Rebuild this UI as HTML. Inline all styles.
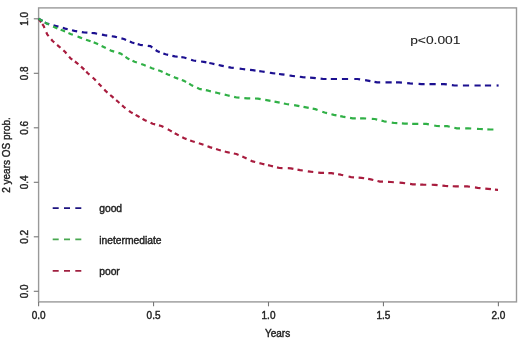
<!DOCTYPE html>
<html><head><meta charset="utf-8"><style>
html,body{margin:0;padding:0;background:#fff;width:520px;height:345px;overflow:hidden}
svg{display:block;will-change:transform}
text{font-family:"Liberation Sans",sans-serif;font-size:10px;fill:#222;stroke:#222;stroke-width:0.4px}
</style></head><body>
<svg width="520" height="345" viewBox="0 0 520 345">
<rect width="520" height="345" fill="#fff"/>
<rect x="38.6" y="7.9" width="477.9" height="294" fill="none" stroke="#999" stroke-width="1.4"/>
<line x1="33.8" y1="291.30" x2="38.6" y2="291.30" stroke="#777" stroke-width="1.1"/>
<text transform="translate(27.6,291.30) rotate(-90)" text-anchor="middle">0.0</text>
<line x1="33.8" y1="236.80" x2="38.6" y2="236.80" stroke="#777" stroke-width="1.1"/>
<text transform="translate(27.6,236.80) rotate(-90)" text-anchor="middle">0.2</text>
<line x1="33.8" y1="182.30" x2="38.6" y2="182.30" stroke="#777" stroke-width="1.1"/>
<text transform="translate(27.6,182.30) rotate(-90)" text-anchor="middle">0.4</text>
<line x1="33.8" y1="127.80" x2="38.6" y2="127.80" stroke="#777" stroke-width="1.1"/>
<text transform="translate(27.6,127.80) rotate(-90)" text-anchor="middle">0.6</text>
<line x1="33.8" y1="73.30" x2="38.6" y2="73.30" stroke="#777" stroke-width="1.1"/>
<text transform="translate(27.6,73.30) rotate(-90)" text-anchor="middle">0.8</text>
<line x1="33.8" y1="18.80" x2="38.6" y2="18.80" stroke="#777" stroke-width="1.1"/>
<text transform="translate(27.6,18.80) rotate(-90)" text-anchor="middle">1.0</text>
<line x1="38.60" y1="301.9" x2="38.60" y2="306.3" stroke="#777" stroke-width="1.1"/>
<text x="38.60" y="318.6" text-anchor="middle">0.0</text>
<line x1="153.55" y1="301.9" x2="153.55" y2="306.3" stroke="#777" stroke-width="1.1"/>
<text x="153.55" y="318.6" text-anchor="middle">0.5</text>
<line x1="268.50" y1="301.9" x2="268.50" y2="306.3" stroke="#777" stroke-width="1.1"/>
<text x="268.50" y="318.6" text-anchor="middle">1.0</text>
<line x1="383.45" y1="301.9" x2="383.45" y2="306.3" stroke="#777" stroke-width="1.1"/>
<text x="383.45" y="318.6" text-anchor="middle">1.5</text>
<line x1="498.40" y1="301.9" x2="498.40" y2="306.3" stroke="#777" stroke-width="1.1"/>
<text x="498.40" y="318.6" text-anchor="middle">2.0</text>
<text x="277.6" y="336.6" text-anchor="middle">Years</text>
<text transform="translate(9.6,155) rotate(-90)" text-anchor="middle">2 years OS prob.</text>
<path d="M38.60,18.80 L41.18,22.42 M42.31,23.99 L43.60,25.80 L44.51,27.99 M46.29,32.21 L47.20,34.40 L48.60,36.10 M51.20,39.30 L52.60,41.00 L54.27,42.43 M57.13,44.87 L58.80,46.30 L60.44,47.76 M63.36,50.34 L65.00,51.80 L66.42,53.48 M69.08,56.62 L70.50,58.30 L72.30,59.60 M74.90,61.50 L76.70,62.80 L78.35,64.25 M81.05,66.65 L82.70,68.10 L84.25,69.65 M86.25,71.65 L87.80,73.20 L89.44,74.66 M92.66,77.54 L94.30,79.00 L95.81,80.59 M98.49,83.41 L100.00,85.00 L101.50,86.60 M104.30,89.60 L105.80,91.20 L107.47,92.63 M110.23,94.97 L111.90,96.40 L113.56,97.84 M116.14,100.06 L117.80,101.50 L119.43,102.97 M122.07,105.33 L123.70,106.80 L125.46,108.14 M128.94,110.76 L130.70,112.10 L132.68,113.22 M135.62,114.88 L137.60,116.00 L139.56,117.14 M142.54,118.86 L144.50,120.00 L146.64,120.96 M150.56,122.74 L152.70,123.70 L155.15,124.35 M158.95,125.35 L161.40,126.00 L163.43,127.07 M167.77,129.33 L169.80,130.40 L171.78,131.52 M174.72,133.18 L176.70,134.30 L178.73,135.37 M182.27,137.23 L184.30,138.30 L186.56,139.14 M190.14,140.46 L192.40,141.30 L194.77,142.03 M198.83,143.27 L201.20,144.00 L203.48,144.82 M207.52,146.28 L209.80,147.10 L212.16,147.84 M216.04,149.06 L218.40,149.80 L220.84,150.46 M224.76,151.54 L227.20,152.20 L229.79,152.71 M233.81,153.49 L236.40,154.00 L238.56,154.94 M242.34,156.56 L244.50,157.50 L246.60,158.50 M250.60,160.40 L252.70,161.40 L255.18,162.02 M259.42,163.08 L261.90,163.70 L264.39,164.31 M268.01,165.19 L270.50,165.80 L272.99,166.41 M277.01,167.39 L279.50,168.00 L282.52,168.08 M287.78,168.22 L290.80,168.30 L293.40,168.80 M297.50,169.60 L300.10,170.10 L302.79,170.51 M307.81,171.29 L310.50,171.70 L313.28,172.02 M318.22,172.58 L321.00,172.90 L324.04,172.96 M328.36,173.04 L331.40,173.10 L334.04,173.56 M338.06,174.24 L340.70,174.70 L343.22,175.28 M348.58,176.52 L351.10,177.10 L354.00,177.30 M358.60,177.60 L361.50,177.80 L364.14,178.26 M368.16,178.94 L370.80,179.40 L373.30,180.00 M377.50,181.00 L380.00,181.60 L382.99,181.71 M388.01,181.89 L391.00,182.00 L393.87,182.23 M399.53,182.67 L402.40,182.90 L405.13,183.27 M410.07,183.93 L412.80,184.30 L415.79,184.41 M420.21,184.59 L423.20,184.70 L426.27,184.73 M431.73,184.77 L434.80,184.80 L437.60,185.10 M442.40,185.60 L445.20,185.90 L448.16,186.04 M452.74,186.26 L455.70,186.40 L458.80,186.40 M464.10,186.40 L467.20,186.40 L469.94,186.76 M474.96,187.44 L477.70,187.80 L480.50,188.10 M485.30,188.60 L488.10,188.90 L490.94,189.16 M494.96,189.54 L497.80,189.80 L498.00,189.80" fill="none" stroke="#a81c3e" stroke-width="2.2" stroke-linejoin="round"/>
<path d="M38.60,18.80 L42.54,21.06 M44.83,22.37 L46.80,23.50 L49.24,24.16 M53.56,25.34 L56.00,26.00 L58.42,26.68 M62.78,27.92 L65.20,28.60 L67.69,29.21 M72.01,30.29 L74.50,30.90 L77.17,31.33 M81.83,32.07 L84.50,32.50 L87.40,32.70 M91.60,33.00 L94.50,33.20 L97.08,33.72 M101.92,34.68 L104.50,35.20 L107.22,35.58 M111.78,36.22 L114.50,36.60 L116.97,37.23 M121.43,38.37 L123.90,39.00 L126.06,39.94 M129.84,41.56 L132.00,42.50 L134.41,43.19 M137.69,44.11 L140.10,44.80 L142.83,45.17 M147.77,45.83 L150.50,46.20 L152.29,47.51 M155.71,49.99 L157.50,51.30 L159.76,52.14 M163.34,53.46 L165.60,54.30 L168.13,54.87 M172.37,55.83 L174.90,56.40 L177.67,56.73 M181.33,57.17 L184.10,57.50 L186.44,58.26 M191.06,59.74 L193.40,60.50 L196.13,60.87 M201.07,61.53 L203.80,61.90 L206.39,62.41 M209.31,62.99 L211.90,63.50 L214.43,64.07 M218.67,65.03 L221.20,65.60 L223.77,66.13 M228.43,67.07 L231.00,67.60 L233.76,67.94 M239.64,68.66 L242.40,69.00 L245.18,69.32 M250.02,69.88 L252.80,70.20 L255.52,70.58 M259.28,71.12 L262.00,71.50 L264.67,71.93 M269.83,72.77 L272.50,73.20 L275.27,73.53 M279.03,73.97 L281.80,74.30 L284.49,74.71 M289.51,75.49 L292.20,75.90 L294.98,76.22 M299.82,76.78 L302.60,77.10 L305.50,77.30 M310.10,77.60 L313.00,77.80 L315.78,78.12 M320.62,78.68 L323.40,79.00 L326.50,79.00 M330.80,79.00 L333.90,79.00 L337.00,79.00 M341.90,79.00 L345.00,79.00 L348.10,79.00 M354.30,79.00 L357.40,79.00 L360.09,79.41 M365.11,80.19 L367.80,80.60 L370.40,81.10 M374.50,81.90 L377.10,82.40 L380.20,82.40 M385.50,82.40 L388.60,82.40 L391.70,82.40 M396.00,82.40 L399.10,82.40 L401.94,82.66 M407.16,83.14 L410.00,83.40 L412.92,83.58 M418.58,83.92 L421.50,84.10 L424.60,84.10 M429.50,84.10 L432.60,84.10 L435.70,84.10 M441.00,84.10 L444.10,84.10 L446.84,84.46 M451.86,85.14 L454.60,85.50 L457.70,85.50 M462.90,85.50 L466.00,85.50 L469.10,85.50 M474.50,85.50 L477.60,85.50 L480.70,85.50 M484.90,85.50 L488.00,85.50 L491.10,85.50" fill="none" stroke="#1c1090" stroke-width="2.2" stroke-linejoin="round"/>
<path d="M38.60,18.80 L42.54,21.06 M44.83,22.37 L46.80,23.50 L48.90,24.50 M53.10,26.50 L55.20,27.50 L57.41,28.39 M60.69,29.71 L62.90,30.60 L65.05,31.55 M68.45,33.05 L70.60,34.00 L72.86,34.84 M77.54,36.56 L79.80,37.40 L82.07,38.23 M86.03,39.67 L88.30,40.50 L90.60,41.30 M93.70,42.40 L96.00,43.20 L98.08,44.22 M101.62,45.98 L103.70,47.00 L105.79,48.01 M109.71,49.89 L111.80,50.90 L114.18,51.62 M118.42,52.88 L120.80,53.60 L122.62,54.88 M125.48,56.92 L127.30,58.20 L129.40,59.20 M132.50,60.70 L134.60,61.70 L136.90,62.50 M141.20,64.00 L143.50,64.80 L145.71,65.69 M149.79,67.31 L152.00,68.20 L154.33,68.97 M158.17,70.23 L160.50,71.00 L162.62,71.98 M165.78,73.42 L167.90,74.40 L170.06,75.34 M173.84,76.96 L176.00,77.90 L178.26,78.74 M181.84,80.06 L184.10,80.90 L186.07,82.03 M189.13,83.77 L191.10,84.90 L193.19,85.91 M197.11,87.79 L199.20,88.80 L201.77,89.33 M205.83,90.17 L208.40,90.70 L210.89,91.31 M215.21,92.39 L217.70,93.00 L220.22,93.58 M224.68,94.62 L227.20,95.20 L229.69,95.81 M234.11,96.89 L236.60,97.50 L239.48,97.72 M244.32,98.08 L247.20,98.30 L250.22,98.38 M254.98,98.52 L258.00,98.60 L260.65,99.05 M265.25,99.85 L267.90,100.30 L270.49,100.81 M274.51,101.59 L277.10,102.10 L279.67,102.63 M283.83,103.47 L286.40,104.00 L289.09,104.41 M294.11,105.19 L296.80,105.60 L299.40,106.10 M303.50,106.90 L306.10,107.40 L308.72,107.88 M312.68,108.62 L315.30,109.10 L317.57,109.93 M322.33,111.67 L324.60,112.50 L327.06,113.14 M331.44,114.26 L333.90,114.90 L336.48,115.42 M340.22,116.18 L342.80,116.70 L345.47,117.13 M350.03,117.87 L352.70,118.30 L355.80,118.30 M360.10,118.30 L363.20,118.30 L366.12,118.48 M371.78,118.82 L374.70,119.00 L377.19,119.61 M381.51,120.69 L384.00,121.30 L386.66,121.74 M391.74,122.56 L394.40,123.00 L397.33,123.17 M401.87,123.43 L404.80,123.60 L407.81,123.69 M412.19,123.81 L415.20,123.90 L418.30,123.90 M423.20,123.90 L426.30,123.90 L428.88,124.42 M434.22,125.48 L436.80,126.00 L439.84,126.06 M444.16,126.14 L447.20,126.20 L449.75,126.75 M454.35,127.75 L456.90,128.30 L460.00,128.30 M465.20,128.30 L468.30,128.30 L471.22,128.48 M476.98,128.82 L479.90,129.00 L482.86,129.14 M487.34,129.36 L490.30,129.50 L493.40,129.50" fill="none" stroke="#30b046" stroke-width="2.2" stroke-linejoin="round"/>
<line x1="496.6" y1="85.5" x2="498.6" y2="85.5" stroke="#1c1090" stroke-width="2.2"/>
<line x1="52.7" y1="208.2" x2="82" y2="208.2" stroke="#1e1480" stroke-width="1.8" stroke-dasharray="6 5.3"/>
<text x="99.2" y="212.1" style="font-size:10.3px">good</text>
<line x1="52.7" y1="239.3" x2="82" y2="239.3" stroke="#48a850" stroke-width="1.8" stroke-dasharray="6 5.3"/>
<text x="99.2" y="243.5" style="font-size:10.3px">inetermediate</text>
<line x1="52.7" y1="270.8" x2="82" y2="270.8" stroke="#a02040" stroke-width="1.8" stroke-dasharray="6 5.3"/>
<text x="99.2" y="274.9" style="font-size:10.3px">poor</text>
<text x="410.2" y="43.6" style="font-size:10.8px;stroke-width:0.1px" textLength="50.3" lengthAdjust="spacingAndGlyphs">p&lt;0.001</text>
</svg></body></html>
